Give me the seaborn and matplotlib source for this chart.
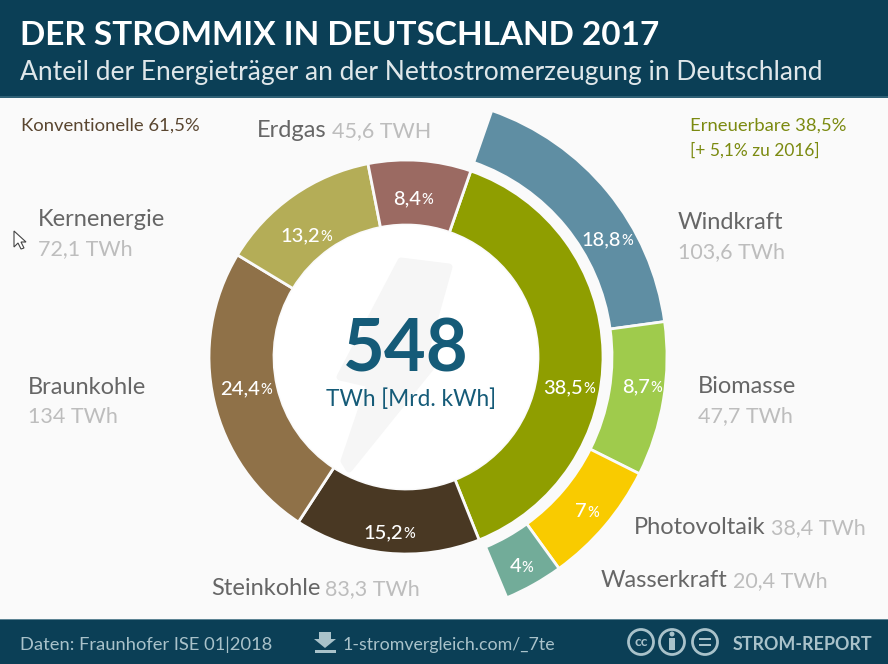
import matplotlib
matplotlib.use("Agg")
import matplotlib.pyplot as plt
from matplotlib.patches import Circle, Polygon, Rectangle
import seaborn as sns

W, H = 888, 664
sns.set_theme(style="white")
plt.rcParams['font.family'] = ['Lato', 'DejaVu Sans']

inner_names = ["Erneuerbare", "Steinkohle", "Braunkohle", "Kernenergie", "Erdgas"]
inner_share = [38.5, 15.2, 24.4, 13.2, 8.4]
inner_labels = ["38,5", "15,2", "24,4", "13,2", "8,4"]
inner_colors = ["#8f9e00", "#493823", "#8f7148", "#b4ad57", "#9b6a62"]

outer_names = ["Windkraft", "Biomasse", "Photovoltaik", "Wasserkraft"]
outer_arc_share = [17.5, 9.55, 7.65, 3.65]   # arc lengths as drawn in the picture
outer_labels = ["18,8", "8,7", "7", "4"]
outer_colors = ["#5f8ea3", "#9fcb4c", "#f9cb00", "#72ac99"]

HEADER = "#0b3f56"
DARK = "#666666"
LIGHT = "#bdbdbd"
BLUE = "#155b78"
FOOT = "#a9c2ca"

fig = plt.figure(figsize=(W / 100, H / 100), dpi=100, facecolor="#fafafa")
ax = fig.add_axes([0, 0, 1, 1])
Y = lambda py: H - py
cx, cy = 406, Y(357)

ax.add_patch(Rectangle((0, Y(98)), W, 98, fc=HEADER, ec="none", zorder=1))
ax.add_patch(Rectangle((0, Y(98)), W, 2, fc="#2f6075", ec="none", zorder=1))
ax.add_patch(Rectangle((0, 0), W, 44, fc=HEADER, ec="none", zorder=1))
ax.add_patch(Rectangle((0, 44), W, 1.5, fc="#5d8494", ec="none", zorder=1))

ax.pie(inner_share, colors=sns.color_palette(inner_colors), center=(cx, cy), radius=197,
       startangle=90 - 19.2, counterclock=False,
       wedgeprops=dict(width=65, edgecolor="#fafafa", linewidth=2), frame=True)
ax.pie([v / 100 for v in outer_arc_share], colors=sns.color_palette(outer_colors), center=(cx, cy), radius=261,
       startangle=90 - 19.2, counterclock=False, normalize=False,
       wedgeprops=dict(width=55, edgecolor="#fafafa", linewidth=2), frame=True)

ax.set_xlim(0, W)
ax.set_ylim(0, H)
ax.set_aspect("equal")
ax.axis("off")

ax.add_patch(Circle((cx, cy), 132, fc="white", ec="none", zorder=3))
bolt = [(401, 261), (449, 267), (427, 346), (432, 366), (349, 469), (344, 461), (370, 384), (340, 377)]
ax.add_patch(Polygon([(x, Y(y)) for x, y in bolt], closed=True, fc="#f6f6f6", ec="#f6f6f6",
                     lw=5, joinstyle="round", zorder=4))


def T(x, py, s, size, color, ha="left", weight="normal"):
    return ax.text(x, Y(py), s, fontsize=size, color=color, ha=ha, va="baseline",
                   fontweight=weight, zorder=6)


def two(x, py, a, b):
    t = T(x, py, a, 17, DARK)
    fig.canvas.draw()
    bb = t.get_window_extent()
    T(bb.x1 + 5, py, b, 15.5, LIGHT)


T(20, 45, "DER STROMMIX IN DEUTSCHLAND 2017", 24, "white", weight="bold")
T(20, 80, "Anteil der Energieträger an der Nettostromerzeugung in Deutschland", 19, "#dfe7ea")

T(21, 131, "Konventionelle 61,5%", 13.3, "#5a4630")
T(690, 131, "Erneuerbare 38,5%", 13.3, "#7b8a10")
T(690, 156, "[+ 5,1% zu 2016]", 12.5, "#7b8a10")

two(257, 137, "Erdgas", "45,6 TWH")
two(634, 534, "Photovoltaik", "38,4 TWh")
two(601, 587, "Wasserkraft", "20,4 TWh")
two(211, 595, "Steinkohle", "83,3 TWh")
for x, py, name, val in [(678, 229, "Windkraft", "103,6 TWh"), (698, 393, "Biomasse", "47,7 TWh"),
                         (28, 394, "Braunkohle", "134 TWh"), (38, 226, "Kernenergie", "72,1 TWh")]:
    T(x, py, name, 17, DARK)
    T(x, py + 29, val, 15.5, LIGHT)

T(406, 372, "548", 52, BLUE, ha="center", weight="bold")
T(411, 406, "TWh [Mrd. kWh]", 16.3, BLUE, ha="center")

pct_pos = {"38,5": (583, 393), "15,2": (403, 538), "24,4": (260, 394), "13,2": (320, 241), "8,4": (421, 204),
           "18,8": (621, 245), "8,7": (650, 392), "7": (587, 517), "4": (521, 572)}
for lab in inner_labels + outer_labels:
    x, py = pct_pos[lab]
    T(x, py, lab, 14.5, "white", ha="right", weight="medium")
    T(x, py, "%", 10.5, "white", weight="medium")

T(20, 650, "Daten: Fraunhofer ISE 01|2018", 13.2, FOOT)
T(343, 650, "1-stromvergleich.com/_7te", 12.8, FOOT)
T(733, 650, "STROM-REPORT", 12.9, FOOT, weight="bold")

ax.add_patch(Polygon([(x, Y(y)) for x, y in [(319, 632), (331, 632), (331, 639), (336, 639), (325, 648), (314, 639), (319, 639)]],
                     closed=True, fc=FOOT, ec="none", zorder=6))
ax.add_patch(Rectangle((315, Y(653)), 21, 3, fc=FOOT, ec="none", zorder=6))
for x in (641, 672, 705):
    ax.add_patch(Circle((x, Y(642)), 12.5, fc="none", ec=FOOT, lw=2, zorder=6))
T(641, 646, "cc", 10, FOOT, ha="center", weight="bold")
ax.add_patch(Circle((672, Y(634)), 2.5, fc=FOOT, ec="none", zorder=6))
ax.add_patch(Rectangle((669, Y(650)), 6, 12, fc=FOOT, ec="none", zorder=6))
ax.add_patch(Rectangle((699, Y(640)), 12, 2.5, fc=FOOT, ec="none", zorder=6))
ax.add_patch(Rectangle((699, Y(646)), 12, 2.5, fc=FOOT, ec="none", zorder=6))

cursor = [(14, 231), (14, 247), (18, 243), (21, 249), (24, 248), (21, 242), (26, 242)]
ax.add_patch(Polygon([(x, Y(y)) for x, y in cursor], closed=True, fc="white", ec="#444444", lw=0.8, zorder=6))

fig.savefig("out.png", dpi=100, facecolor=fig.get_facecolor())
